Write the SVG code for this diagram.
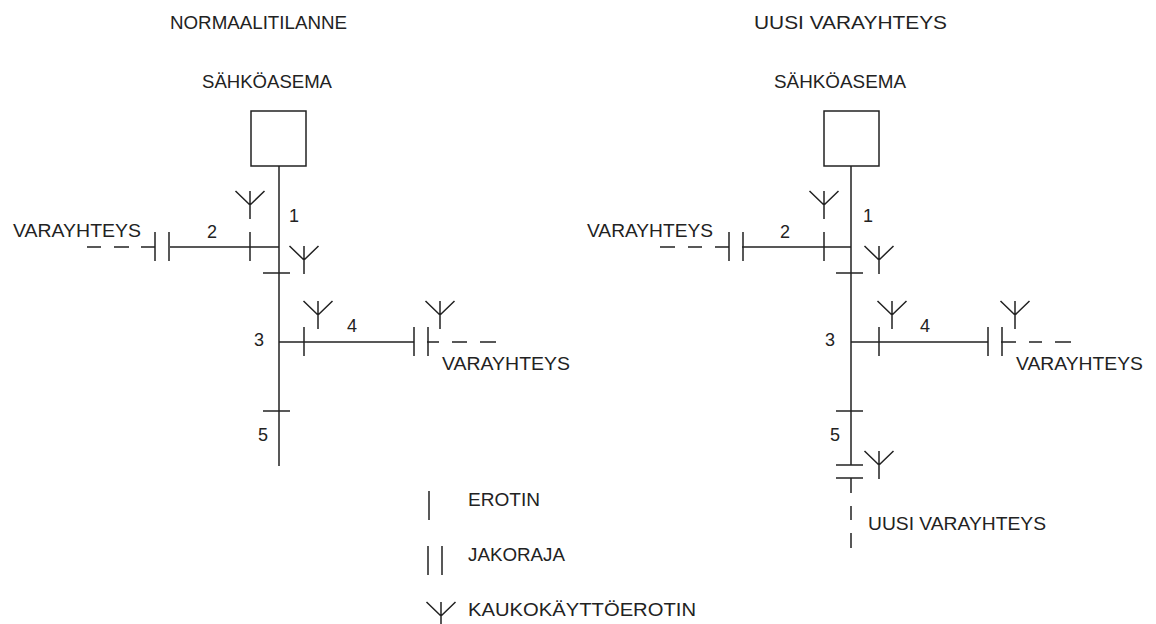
<svg xmlns="http://www.w3.org/2000/svg" width="1156" height="624" viewBox="0 0 1156 624">
<style>
text{font-family:"Liberation Sans",Arial,sans-serif;font-size:18px;fill:#222}
line,path,rect{stroke:#222;stroke-width:1.5;fill:none}
.b{fill:#fff}
</style>
<defs>
<path id="ant" d="M-14.500 0L0 14M14.500 0L0 14M0 0V28"/>
<path id="ev" d="M0 0V29"/>
<path id="jv" d="M0 0V29M14 0V29"/>
<path id="eh" d="M-15 0H12"/>
</defs>
<rect width="1156" height="624" style="fill:#fff;stroke:none"/>
<g id="titles">
<text x="170" y="29" textLength="177" lengthAdjust="spacingAndGlyphs">NORMAALITILANNE</text>
<text x="754" y="29" textLength="193" lengthAdjust="spacingAndGlyphs">UUSI VARAYHTEYS</text>
</g>
<g id="left-station"><rect class="b" x="251" y="111" width="55" height="55"/><text x="202" y="88" textLength="130" lengthAdjust="spacingAndGlyphs">SÄHKÖASEMA</text></g>
<g id="right-station"><rect class="b" x="824" y="111" width="55" height="55"/><text x="774" y="88" textLength="132" lengthAdjust="spacingAndGlyphs">SÄHKÖASEMA</text></g>
<g id="connectors">
<path d="M279 166V466M279 247H170M155 247H141M129 247H114M101 247H87M279 342H414M427 342H439M452 342H467M480 342H496"/>
<path d="M851 166V465M851 247H742M729 247H715M702 247H688M675 247H660M851 342H988M1001 342H1016M1029 342H1042M1055 342H1071M851 478V493M851 506V520M851 533V548"/>
</g>
<g id="left-symbols">
<use href="#ant" x="250" y="191"/><use href="#ev" x="250" y="232"/><use href="#jv" x="155" y="232"/>
<use href="#ant" x="304" y="246"/><use href="#eh" x="278" y="273"/>
<use href="#ant" x="318" y="301"/><use href="#ev" x="304" y="327"/><use href="#jv" x="414" y="327"/><use href="#ant" x="440" y="301"/>
<use href="#eh" x="278" y="411"/>
</g>
<g id="right-symbols">
<use href="#ant" x="824" y="191"/><use href="#ev" x="824" y="232"/><use href="#jv" x="729" y="232"/>
<use href="#ant" x="879" y="246"/><use href="#eh" x="851" y="273"/>
<use href="#ant" x="892" y="301"/><use href="#ev" x="879" y="327"/><use href="#jv" x="988" y="327"/><use href="#ant" x="1015" y="301"/>
<use href="#eh" x="851" y="411"/>
<use href="#ant" x="879" y="451"/><use href="#eh" x="851" y="465"/><use href="#eh" x="851" y="478"/>
</g>
<g id="left-labels">
<text x="289" y="222">1</text><text x="207" y="238">2</text><text x="254" y="346">3</text><text x="347" y="332">4</text><text x="258" y="441">5</text>
<text x="13" y="237" textLength="128" lengthAdjust="spacingAndGlyphs">VARAYHTEYS</text><text x="442" y="370" textLength="128" lengthAdjust="spacingAndGlyphs">VARAYHTEYS</text>
</g>
<g id="right-labels">
<text x="863" y="222">1</text><text x="780" y="238">2</text><text x="825" y="346">3</text><text x="920" y="332">4</text><text x="830" y="441">5</text>
<text x="587" y="237" textLength="126" lengthAdjust="spacingAndGlyphs">VARAYHTEYS</text><text x="1016" y="370" textLength="127" lengthAdjust="spacingAndGlyphs">VARAYHTEYS</text>
<text x="868" y="530" textLength="178" lengthAdjust="spacingAndGlyphs">UUSI VARAYHTEYS</text>
</g>
<g id="legend">
<use href="#ev" x="429" y="491"/><text x="468" y="506" textLength="72" lengthAdjust="spacingAndGlyphs">EROTIN</text>
<use href="#jv" x="428" y="546"/><text x="468" y="561" textLength="97" lengthAdjust="spacingAndGlyphs">JAKORAJA</text>
<use href="#ant" x="441" y="602"/><text x="468" y="616" textLength="228" lengthAdjust="spacingAndGlyphs">KAUKOKÄYTTÖEROTIN</text>
</g>
</svg>
